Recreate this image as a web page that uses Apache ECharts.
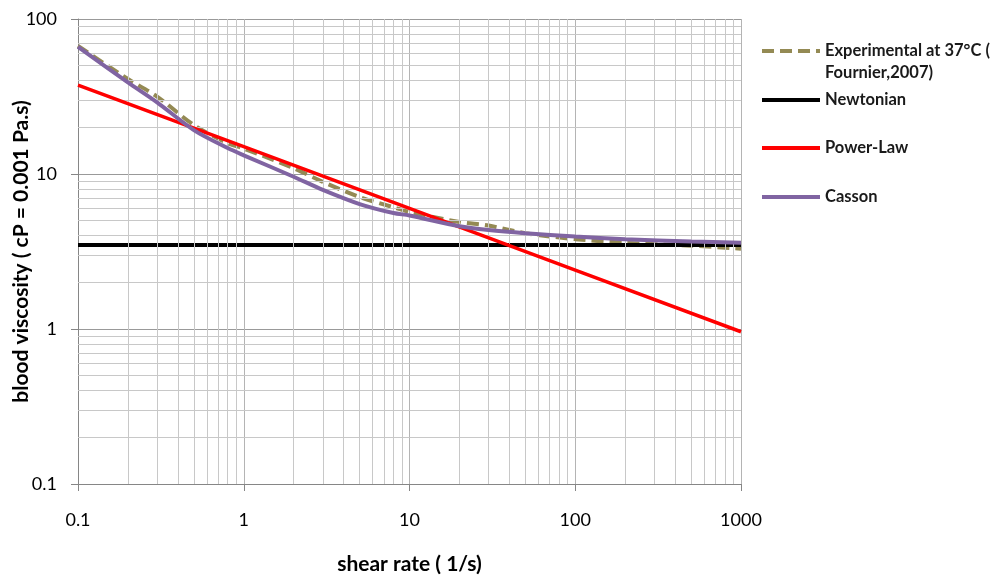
<!DOCTYPE html>
<html>
<head>
<meta charset="utf-8">
<title>blood viscosity vs shear rate</title>
<script src="https://cdn.jsdelivr.net/npm/echarts@6/dist/echarts.min.js"></script>
<style>
  html, body { margin: 0; padding: 0; background: #fff; }
  #chart { width: 995px; height: 578px; }
</style>
</head>
<body>
<div id="chart"></div>
<script>
// values
var shearRate = [0.1, 0.2, 0.3, 0.5, 0.8, 1, 2, 3, 5, 8, 10, 20, 30, 50, 100, 200, 500, 1000];
var experimental = [67, 41, 31.6, 20.7, 15.8, 14.6, 10.9, 8.9, 7.1, 6.1, 5.7, 4.9, 4.65, 4.15, 3.8, 3.6, 3.45, 3.3];
var casson = [66, 39, 29, 19.2, 14.7, 13.2, 9.6, 7.9, 6.4, 5.6, 5.4, 4.6, 4.35, 4.15, 3.95, 3.8, 3.67, 3.6];

var powerLawRate = [0.1, 1, 10, 100, 1000];
var powerLaw = [37.5, 15, 6, 2.4, 0.96];

var newtonianRate = [0.1, 1000];
var newtonian = [3.48, 3.48];

// minor grid lines (2..9 within each decade)
var minorSteps = [2, 3, 4, 5, 6, 7, 8, 9];
var xDecades = [0.1, 1, 10, 100];
var yDecades = [0.1, 1, 10];

var expName = 'Experimental at 37°C (\nFournier,2007)';

function pairs(xs, ys) {
    return xs.map(function (x, i) { return [x, ys[i]]; });
}

var minorLines = [];
xDecades.forEach(function (d) {
    minorSteps.forEach(function (s) { minorLines.push({ xAxis: +(d * s).toPrecision(6) }); });
});
yDecades.forEach(function (d) {
    minorSteps.forEach(function (s) { minorLines.push({ yAxis: +(d * s).toPrecision(6) }); });
});

var font = 'Lato, "Open Sans", sans-serif';
var legendText = { fontFamily: font, fontSize: 16.5, fontWeight: 'bold', color: '#1a1a1a', lineHeight: 22 };
var legendBase = {
    left: 760, padding: 0, itemWidth: 58, itemHeight: 14, itemGap: 0,
    itemStyle: { opacity: 0 }, lineStyle: { width: 4 }, textStyle: legendText
};

var chart = echarts.init(document.getElementById('chart'));
chart.setOption({
    animation: false,
    grid: { left: 78, top: 19, width: 663, height: 465, containLabel: false, outerBoundsMode: 'none' },
    legend: [
        Object.assign({}, legendBase, {
            data: [expName], top: 18,
            // blank first line so the first text line sits level with the icon
            formatter: function (name) { return '\u00a0\n' + name; }
        }),
        Object.assign({}, legendBase, { data: ['Newtonian'], top: 89 }),
        Object.assign({}, legendBase, { data: ['Power-Law'], top: 137 }),
        Object.assign({}, legendBase, { data: ['Casson'], top: 186 })
    ],
    xAxis: {
        type: 'log', logBase: 10, min: 0.1, max: 1000,
        name: 'shear rate ( 1/s)', nameLocation: 'middle', nameGap: 70, nameMoveOverlap: false,
        nameTextStyle: { fontFamily: font, fontSize: 21, fontWeight: 'bold', color: '#000' },
        axisLine: { lineStyle: { color: '#868686', width: 1 } },
        axisTick: { show: true, length: 7, lineStyle: { color: '#868686' } },
        axisLabel: {
            margin: 27, fontFamily: font, fontSize: 18, color: '#000',
            formatter: function (v) { return String(v); }
        },
        splitLine: { show: true, lineStyle: { color: '#b4b4b4', width: 1 } }
    },
    yAxis: {
        type: 'log', logBase: 10, min: 0.1, max: 100,
        name: 'blood viscosity ( cP = 0.001 Pa.s)', nameLocation: 'middle', nameGap: 46, nameMoveOverlap: false,
        nameTextStyle: { fontFamily: font, fontSize: 21, fontWeight: 'bold', color: '#000' },
        axisLine: { show: true, lineStyle: { color: '#868686', width: 1 } },
        axisTick: { show: true, length: 7, lineStyle: { color: '#868686' } },
        axisLabel: {
            margin: 21, fontFamily: font, fontSize: 18, color: '#000',
            formatter: function (v) { return String(v); }
        },
        splitLine: { show: true, lineStyle: { color: '#999', width: 1 } }
    },
    series: [
        {
            name: 'minor grid', type: 'line', data: [], silent: true, z: 1,
            markLine: {
                silent: true, symbol: 'none', animation: false,
                label: { show: false },
                lineStyle: { color: '#c8c8c8', width: 1, type: 'solid' },
                emphasis: { disabled: true },
                data: minorLines
            }
        },
        {
            name: expName, type: 'line', data: pairs(shearRate, experimental),
            symbol: 'none', smooth: 0.3, z: 3,
            lineStyle: { color: '#948a54', width: 4, type: [12, 6] },
            itemStyle: { color: '#948a54' }
        },
        {
            name: 'Newtonian', type: 'line', data: pairs(newtonianRate, newtonian),
            symbol: 'none', z: 4,
            lineStyle: { color: '#000', width: 4 },
            itemStyle: { color: '#000' }
        },
        {
            name: 'Power-Law', type: 'line', data: pairs(powerLawRate, powerLaw),
            symbol: 'none', z: 5,
            lineStyle: { color: '#ff0000', width: 3.5 },
            itemStyle: { color: '#ff0000' }
        },
        {
            name: 'Casson', type: 'line', data: pairs(shearRate, casson),
            symbol: 'none', smooth: 0.3, z: 6,
            lineStyle: { color: '#8064a2', width: 4 },
            itemStyle: { color: '#8064a2' }
        }
    ]
});
</script>
</body>
</html>
